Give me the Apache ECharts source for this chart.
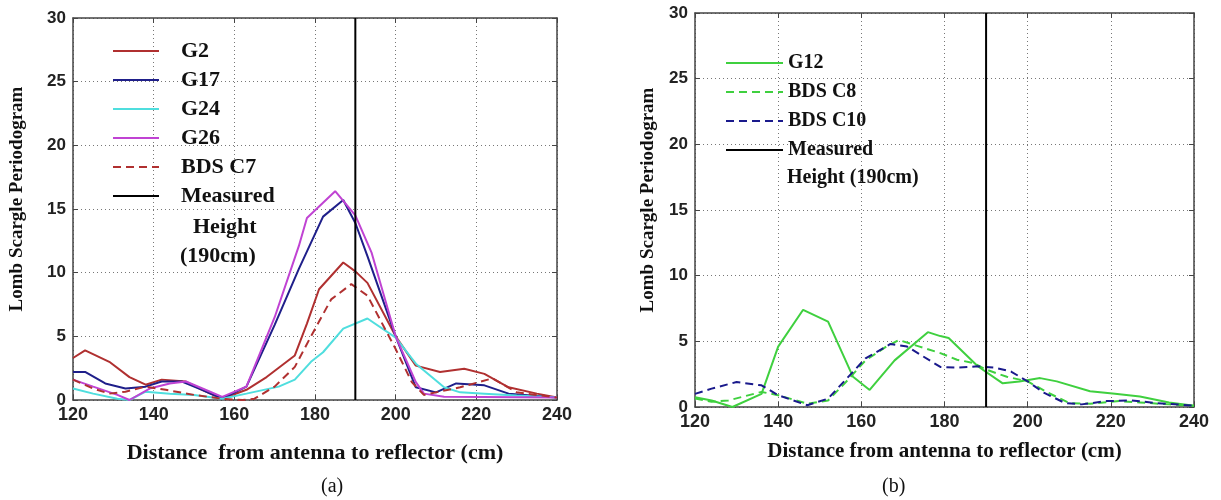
<!DOCTYPE html>
<html lang="en">
<head>
  <meta charset="UTF-8">
  <title>Lomb Scargle Periodogram</title>
  <script type="text/javascript" src="https://fastly.jsdelivr.net/npm/echarts@6/dist/echarts.min.js"></script>
  <style>
    html, body, #container {
      width: 100%;
      height: 100%;
      margin: 0;
      padding: 0;
      overflow: hidden;
      background: #fff;
    }
  </style>
</head>
<body>
  <div id="container"></div>

  <script type="text/javascript">
    // values: [distance (cm), periodogram]
    var g2 = [[120,3.3],[123,3.9],[129,3.0],[134,1.8],[138,1.2],[142,1.6],[148,1.45],[152,0.8],[157,0.1],[163,0.8],[168,1.8],[175,3.5],[178,6.0],[181,8.7],[187,10.8],[190,10.1],[193,9.2],[200,5.0],[205,2.7],[211,2.2],[217,2.45],[222,2.05],[228,1.0],[235,0.5],[240,0.2]];
    var g17 = [[120,2.2],[123,2.2],[128,1.3],[133,0.9],[138,1.05],[142,1.45],[147,1.45],[152,0.8],[157,0.1],[163,1.05],[170,5.9],[176,10.3],[182,14.4],[187,15.7],[190,13.9],[193,11.3],[200,5.0],[205,1.0],[210,0.6],[215,1.3],[222,1.15],[228,0.5],[240,0.2]];
    var g24 = [[120,0.9],[125,0.5],[131,0.1],[134,0],[138,0.65],[144,0.5],[150,0.4],[157,0.1],[163,0.5],[171,1.05],[175,1.6],[179,3.0],[182,3.75],[187,5.6],[193,6.4],[200,4.9],[205,2.85],[212,1.0],[216,0.6],[222,0.5],[230,0.35],[240,0.2]];
    var g26 = [[120,1.6],[125,1.05],[131,0.4],[134,0],[139,0.9],[144,1.3],[148,1.45],[154,0.65],[157,0.25],[163,1.05],[170,6.5],[176,12.1],[178,14.3],[185,16.4],[190,14.5],[194,11.6],[200,5.0],[205,1.4],[207,0.5],[212,0.25],[240,0.2]];
    var c7 = [[120,1.6],[125,0.9],[129,0.5],[133,0.65],[138,1.05],[143,0.8],[150,0.4],[157,0.1],[162,0],[165,0.1],[170,1.05],[175,2.6],[179,5.0],[184,7.9],[189,9.1],[193,8.2],[200,4.0],[204,1.4],[207,0.4],[216,1.0],[224,1.7],[230,0.6],[240,0.2]];

    var g12 = [[120,0.75],[124,0.5],[129,0],[136,1.0],[140,4.6],[146,7.4],[152,6.5],[158,2.3],[162,1.3],[168,3.55],[176,5.7],[179,5.4],[181,5.25],[188,3.1],[194,1.8],[198,1.95],[203,2.2],[207,1.95],[215,1.2],[221,1.0],[227,0.8],[234,0.35],[240,0.1]];
    var c8 = [[120,0.65],[124,0.4],[128,0.5],[136,1.15],[140,0.9],[147,0.25],[152,0.5],[156,1.8],[161,3.55],[166,4.6],[169,5.1],[174,4.6],[179,4.1],[183,3.6],[187,3.35],[190,2.85],[195,2.3],[200,1.95],[205,1.07],[210,0.3],[215,0.25],[222,0.45],[227,0.35],[234,0.2],[240,0.1]];
    var c10 = [[120,1.0],[124,1.4],[130,1.9],[136,1.65],[140,0.9],[147,0.13],[152,0.64],[156,2.0],[161,3.7],[167,4.8],[171,4.6],[179,3.05],[183,3.0],[188,3.1],[192,3.0],[196,2.7],[200,1.95],[204,1.07],[209,0.3],[213,0.2],[219,0.45],[225,0.5],[231,0.3],[240,0.1]];

    var measured = [[190,0],[190,30]];

    var serif = '"Liberation Serif", "Times New Roman", serif';
    var sans = '"Liberation Sans", Arial, sans-serif';
    var dash = [8, 5];

    function line(name, data, color, idx, type) {
      return {
        type: 'line', name: name, data: data,
        xAxisIndex: idx, yAxisIndex: idx,
        symbol: 'none', smooth: false,
        lineStyle: { color: color, width: 2, type: type || 'solid' },
        itemStyle: { color: color }
      };
    }

    function xAx(idx, pos, name, gap, size) {
      var main = pos === 'bottom';
      return {
        type: 'value', gridIndex: idx, position: pos,
        min: 120, max: 240, interval: 20,
        name: main ? name : '', nameLocation: 'middle', nameGap: gap,
        nameTextStyle: { fontFamily: serif, fontWeight: 'bold', fontSize: size, color: '#111' },
        axisLine: { show: true, onZero: false, lineStyle: { color: '#444', width: 1.5 } },
        axisTick: { show: true, inside: true, length: 5, lineStyle: { color: '#444' } },
        axisLabel: { show: main, margin: 6, fontFamily: sans, fontWeight: 'bold', fontSize: 18, color: '#222' },
        splitLine: { show: main, lineStyle: { color: '#777', type: [1, 3] } }
      };
    }

    function yAx(idx, pos, gap) {
      var main = pos === 'left';
      return {
        type: 'value', gridIndex: idx, position: pos,
        min: 0, max: 30, interval: 5,
        name: main ? 'Lomb Scargle Periodogram' : '', nameLocation: 'middle', nameGap: gap,
        nameTextStyle: { fontFamily: serif, fontWeight: 'bold', fontSize: 19, color: '#111', padding: [0, 0, 0, 20] },
        axisLine: { show: true, lineStyle: { color: '#444', width: 1.5 } },
        axisTick: { show: true, inside: true, length: 5, lineStyle: { color: '#444' } },
        axisLabel: { show: main, margin: 7, fontFamily: sans, fontWeight: 'bold', fontSize: 17, color: '#222' },
        splitLine: { show: main, lineStyle: { color: '#777', type: [1, 3] } }
      };
    }

    var myChart = echarts.init(document.getElementById('container'), null, { renderer: 'canvas' });
    myChart.setOption({
      animation: false,
      backgroundColor: '#fff',
      grid: [
        { left: 73, top: 18, width: 484, height: 382 },
        { left: 695, top: 13, width: 499, height: 394 }
      ],
      xAxis: [
        xAx(0, 'bottom', 'Distance  from antenna to reflector (cm)', 42, 22),
        xAx(1, 'bottom', 'Distance from antenna to reflector (cm)', 34, 21),
        xAx(0, 'top'),
        xAx(1, 'top')
      ],
      yAxis: [
        yAx(0, 'left', 46),
        yAx(1, 'left', 37),
        yAx(0, 'right'),
        yAx(1, 'right')
      ],
      legend: [
        {
          orient: 'vertical', left: 107, top: 35,
          itemWidth: 46, itemHeight: 14, itemGap: 7,
          itemStyle: { opacity: 0 },
          data: ['G2', 'G17', 'G24', 'G26', 'BDS C7', 'Measured'],
          textStyle: { fontFamily: serif, fontWeight: 'bold', fontSize: 22, color: '#111', padding: [0, 0, 0, 17] }
        },
        {
          orient: 'vertical', left: 720, top: 48,
          itemWidth: 57, itemHeight: 14, itemGap: 9,
          itemStyle: { opacity: 0 },
          data: ['G12', 'BDS C8', 'BDS C10', 'Measured'],
          textStyle: { fontFamily: serif, fontWeight: 'bold', fontSize: 20, color: '#111' }
        }
      ],
      graphic: [
        { type: 'text', left: 193, top: 216, style: { text: 'Height', font: 'bold 22px ' + serif, fill: '#111' } },
        { type: 'text', left: 180, top: 245, style: { text: '(190cm)', font: 'bold 22px ' + serif, fill: '#111' } },
        { type: 'text', left: 787, top: 168, style: { text: 'Height (190cm)', font: 'bold 20px ' + serif, fill: '#111' } },
        { type: 'text', left: 321, top: 477, style: { text: '(a)', font: '20px ' + serif, fill: '#111' } },
        { type: 'text', left: 882, top: 477, style: { text: '(b)', font: '20px ' + serif, fill: '#111' } }
      ],
      series: [
        line('G2', g2, '#b03030', 0),
        line('G17', g17, '#1f1f8a', 0),
        line('G24', g24, '#4fdede', 0),
        line('G26', g26, '#c043d3', 0),
        line('BDS C7', c7, '#b03030', 0, dash),
        line('Measured', measured, '#000', 0),
        line('G12', g12, '#3fd03f', 1),
        line('BDS C8', c8, '#3fd03f', 1, dash),
        line('BDS C10', c10, '#1a1a8c', 1, dash),
        line('Measured', measured, '#000', 1)
      ]
    });
  </script>
</body>
</html>
